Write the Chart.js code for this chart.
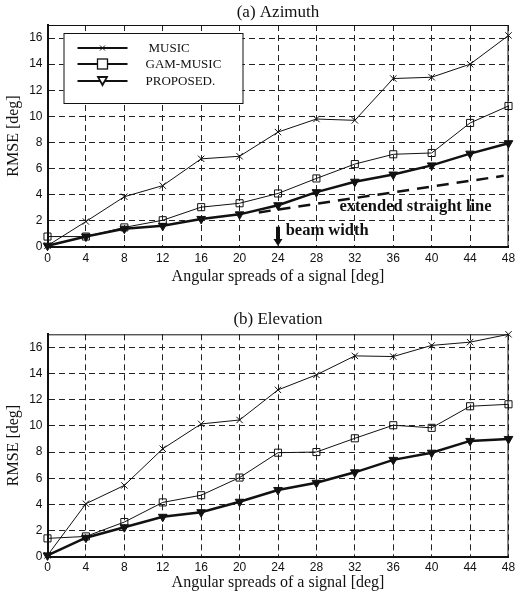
<!DOCTYPE html>
<html>
<head>
<meta charset="utf-8">
<script src="https://cdn.jsdelivr.net/npm/chart.js"></script>
<style>
body { margin: 0; background: #fff; }
#wrap { position: relative; width: 515px; height: 597px; }
canvas { position: absolute; left: 0; }
</style>
</head>
<body>
<div id="wrap">
  <canvas id="azChart" width="515" height="290" style="top:0"></canvas>
  <canvas id="elChart" width="515" height="297" style="top:300px"></canvas>
</div>
<script>
// angular spread values on the x axis, and tick values
const spreads = [0, 4, 8, 12, 16, 20, 24, 28, 32, 36, 40, 44, 48];
const yTicks = [0, 2, 4, 6, 8, 10, 12, 14, 16];
const seriesNames = ['MUSIC', 'GAM-MUSIC', 'PROPOSED.'];

// (a) Azimuth
const azMusic = [0.1, 1.95, 3.85, 4.7, 6.75, 6.95, 8.8, 9.8, 9.7, 12.9, 13.0, 14.0, 16.2];
const azGam = [0.8, 0.8, 1.5, 2.05, 3.05, 3.35, 4.1, 5.25, 6.35, 7.1, 7.2, 9.5, 10.8];
const azProposed = [0.1, 0.8, 1.4, 1.62, 2.15, 2.5, 3.2, 4.2, 5.0, 5.55, 6.25, 7.15, 7.95];
// extended straight line (start / end)
const extLineX = [22, 47.5];
const extLineY = [2.65, 5.45];
const beamWidth = 24;

// (b) Elevation
const elMusic = [0.1, 4.05, 5.45, 8.25, 10.15, 10.45, 12.75, 13.9, 15.35, 15.3, 16.15, 16.4, 17.0];
const elGam = [1.4, 1.55, 2.65, 4.15, 4.7, 6.05, 7.95, 8.0, 9.05, 10.05, 9.85, 11.5, 11.65];
const elProposed = [0.1, 1.45, 2.25, 3.05, 3.4, 4.2, 5.1, 5.65, 6.45, 7.4, 7.95, 8.85, 9.0];

const INK = '#111';
const SERIF = '"Liberation Serif", "DejaVu Serif", serif';
const SANS = '"Liberation Sans", Arial, sans-serif';

function toPoints(xs, ys) {
    return xs.map((x, i) => ({ x: x, y: ys[i] }));
}

function seriesSets(music, gam, proposed) {
    return [
        {
            label: seriesNames[0], data: toPoints(spreads, music),
            borderColor: INK, borderWidth: 1, clip: false,
            pointStyle: 'crossRot', pointRadius: 4.5, pointBorderWidth: 1,
            pointBorderColor: INK, pointBackgroundColor: 'rgba(0,0,0,0)'
        },
        {
            label: seriesNames[1], data: toPoints(spreads, gam),
            borderColor: INK, borderWidth: 1, clip: false,
            pointStyle: 'rect', pointRadius: 5, pointBorderWidth: 1,
            pointBorderColor: INK, pointBackgroundColor: 'rgba(0,0,0,0)'
        },
        {
            label: seriesNames[2], data: toPoints(spreads, proposed),
            borderColor: INK, borderWidth: 2.5, clip: false,
            pointStyle: 'triangle', pointRotation: 180, pointRadius: 5, pointBorderWidth: 1,
            pointBorderColor: INK, pointBackgroundColor: INK
        }
    ];
}

// top and right edges of the plot box
const frame = {
    id: 'frame',
    afterDraw(chart) {
        const { ctx, chartArea: a } = chart;
        ctx.save();
        ctx.strokeStyle = INK;
        ctx.lineWidth = 1;
        ctx.beginPath();
        ctx.moveTo(a.left, a.top + 0.5);
        ctx.lineTo(a.right - 0.5, a.top + 0.5);
        ctx.lineTo(a.right - 0.5, a.bottom);
        ctx.stroke();
        ctx.restore();
    }
};

// boxed legend inside the upper-left of the plot
const boxLegend = {
    id: 'boxLegend',
    afterDraw(chart) {
        const { ctx, chartArea: a } = chart;
        const bx = a.left + 16, by = a.top + 8, bw = 179, bh = 70;
        ctx.save();
        ctx.fillStyle = '#fff';
        ctx.fillRect(bx, by, bw, bh);
        ctx.strokeStyle = INK;
        ctx.lineWidth = 1;
        ctx.strokeRect(bx + 0.5, by + 0.5, bw, bh);
        const rows = [15, 31, 48];
        ctx.font = '13px ' + SERIF;
        ctx.textBaseline = 'middle';
        chart.data.datasets.slice(0, 3).forEach((ds, i) => {
            const ly = by + rows[i];
            const mx = bx + 39;
            ctx.strokeStyle = INK;
            ctx.lineWidth = 2;
            ctx.beginPath();
            ctx.moveTo(bx + 14, ly);
            ctx.lineTo(bx + 64, ly);
            ctx.stroke();
            ctx.lineWidth = 1;
            if (i === 0) {
                ctx.beginPath();
                ctx.moveTo(mx - 2.5, ly - 2.5); ctx.lineTo(mx + 2.5, ly + 2.5);
                ctx.moveTo(mx + 2.5, ly - 2.5); ctx.lineTo(mx - 2.5, ly + 2.5);
                ctx.stroke();
            } else if (i === 1) {
                ctx.fillStyle = '#fff';
                ctx.fillRect(mx - 5, ly - 5, 10, 10);
                ctx.lineWidth = 1.3;
                ctx.strokeRect(mx - 5, ly - 5, 10, 10);
            } else {
                ctx.fillStyle = INK;
                ctx.beginPath();
                ctx.moveTo(mx - 6, ly - 5); ctx.lineTo(mx + 6, ly - 5); ctx.lineTo(mx, ly + 6);
                ctx.closePath();
                ctx.fill();
                ctx.fillStyle = '#fff';
                ctx.beginPath();
                ctx.moveTo(mx - 3, ly - 3); ctx.lineTo(mx + 3, ly - 3); ctx.lineTo(mx, ly + 2);
                ctx.closePath();
                ctx.fill();
            }
            ctx.fillStyle = INK;
            ctx.fillText(ds.label, bx + (i === 0 ? 85 : 82), ly + 1);
        });
        ctx.restore();
    }
};

// text and arrow for the azimuth plot
const notes = {
    id: 'notes',
    afterDatasetsDraw(chart) {
        const { ctx, scales: { x, y } } = chart;
        ctx.save();
        ctx.fillStyle = INK;
        ctx.font = 'bold 16.5px ' + SERIF;
        ctx.textBaseline = 'middle';
        ctx.fillText('extended straight line', x.getPixelForValue(30.4), y.getPixelForValue(3.08));
        ctx.fillText('beam width', x.getPixelForValue(24.8), y.getPixelForValue(1.22));
        const ax = x.getPixelForValue(beamWidth);
        const y0 = y.getPixelForValue(0);
        const y1 = y.getPixelForValue(1.55);
        ctx.fillRect(ax - 2, y1, 4, y0 - y1 - 7);
        ctx.beginPath();
        ctx.moveTo(ax - 4.5, y0 - 8);
        ctx.lineTo(ax + 4.5, y0 - 8);
        ctx.lineTo(ax, y0 - 1);
        ctx.closePath();
        ctx.fill();
        ctx.restore();
    }
};

function makeChart(id, title, datasets, geo, plugins) {
    return new Chart(document.getElementById(id).getContext('2d'), {
        type: 'line',
        data: { datasets: datasets },
        options: {
            responsive: false,
            animation: false,
            devicePixelRatio: 1,
            layout: { padding: { left: 0, right: 6.5, top: 0, bottom: 0 } },
            plugins: {
                legend: { display: false },
                tooltip: { enabled: false },
                title: {
                    display: true, text: title, fullSize: false, color: INK,
                    font: { family: SERIF, size: 17, weight: 'normal' },
                    padding: { top: geo.titleTop, bottom: geo.titleBottom }
                }
            },
            scales: {
                x: {
                    type: 'linear', min: 0, max: 48,
                    afterBuildTicks: s => { s.ticks = spreads.map(v => ({ value: v })); },
                    afterFit: s => { s.height = geo.xHeight; s.paddingLeft = 0; s.paddingRight = 0; },
                    grid: { color: '#222', lineWidth: 1, drawTicks: false },
                    border: { display: true, color: INK, width: 2, dash: [6, 4] },
                    ticks: { padding: 4, color: INK, autoSkip: false, maxRotation: 0, font: { family: SANS, size: 12 } },
                    title: {
                        display: true, text: 'Angular spreads of a signal [deg]', color: INK,
                        font: { family: SERIF, size: 16 },
                        padding: { top: 0, bottom: geo.xTitleBottom }
                    }
                },
                y: {
                    type: 'linear', min: 0, max: 17,
                    afterBuildTicks: s => { s.ticks = yTicks.map(v => ({ value: v })); },
                    afterFit: s => { s.width = 47.5; s.paddingTop = 0; s.paddingBottom = 0; },
                    grid: { color: '#222', lineWidth: 1, drawTicks: false },
                    border: { display: true, color: INK, width: 2, dash: [6, 4] },
                    ticks: { padding: 5, color: INK, font: { family: SANS, size: 12 } },
                    title: {
                        display: true, text: 'RMSE [deg]', color: INK,
                        font: { family: SERIF, size: 16 },
                        padding: { top: 4.4, bottom: 0 }
                    }
                }
            }
        },
        plugins: plugins
    });
}

const azSets = seriesSets(azMusic, azGam, azProposed);
azSets.push({
    label: 'extended straight line', data: toPoints(extLineX, extLineY),
    borderColor: INK, borderWidth: 2.5, borderDash: [12, 8], pointRadius: 0
});

makeChart('azChart', '(a) Azimuth', azSets,
    { titleTop: 2.5, titleBottom: 2.1, xHeight: 43, xTitleBottom: 3.4 },
    [frame, notes, boxLegend]);

makeChart('elChart', '(b) Elevation', seriesSets(elMusic, elGam, elProposed),
    { titleTop: 9.8, titleBottom: 4.1, xHeight: 40.3, xTitleBottom: 4.8 },
    [frame]);
</script>
</body>
</html>
